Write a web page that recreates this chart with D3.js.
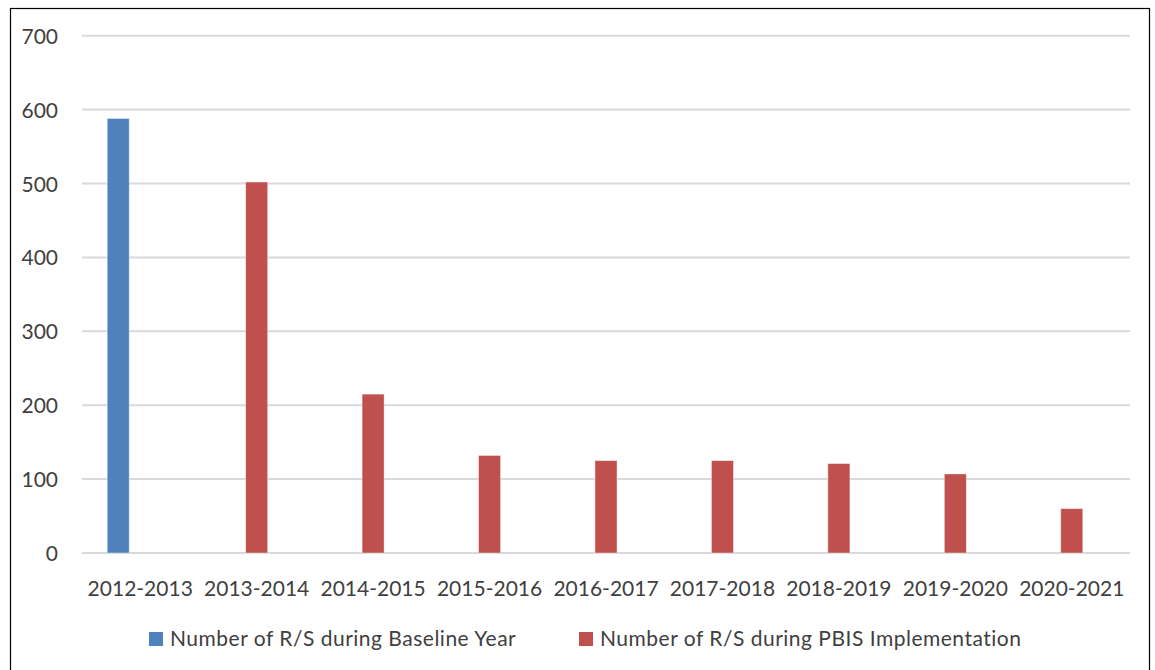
<!DOCTYPE html>
<html><head><meta charset="utf-8">
<script src="https://cdn.jsdelivr.net/npm/d3@7"></script>
<style>
html,body{margin:0;padding:0;background:#fff;}
svg text{font-family:Lato,"Open Sans",sans-serif;fill:#404040;}
</style></head>
<body>
<svg id="chart" width="1155" height="670"></svg>
<script>
const categories = ["2012-2013","2013-2014","2014-2015","2015-2016","2016-2017","2017-2018","2018-2019","2019-2020","2020-2021"];
const baselineValues = [588, null, null, null, null, null, null, null, null];
const pbisValues = [null, 502, 215, 132, 125, 125, 121, 107, 60];
const seriesNames = ["Number of R/S during Baseline Year", "Number of R/S during PBIS Implementation"];
const seriesColors = ["#4f81bd", "#c0504d"];
const yTicks = [0, 100, 200, 300, 400, 500, 600, 700];

(function () {
const svg = d3.select("#chart");
const mLeft = 82, mRight = 1130, mTop = 35.7, mBottom = 553;
const fam = "Lato, 'Open Sans', sans-serif";

svg.append("rect").attr("x", 10.5).attr("y", 8.5).attr("width", 1139).attr("height", 680)
  .attr("fill", "none").attr("stroke", "#000").attr("stroke-width", 1.2);

const x = d3.scaleBand().domain(categories).range([mLeft, mRight]).paddingInner(0.433).paddingOuter(0.2165);
const slots = ["baseline", "pbis", "empty"];
const xs = d3.scaleBand().domain(slots).range([0, x.bandwidth()]);
const y = d3.scaleLinear().domain([0, 700]).range([mBottom, mTop]);

// gridlines
svg.append("g").selectAll("line").data(yTicks).join("line")
  .attr("x1", mLeft).attr("x2", mRight)
  .attr("y1", d => y(d)).attr("y2", d => y(d))
  .attr("stroke", "#d9d9d9").attr("stroke-width", 2);

// y axis labels
const yAxis = d3.axisLeft(y).tickValues(yTicks).tickSize(0).tickPadding(0);
const gy = svg.append("g").attr("transform", `translate(${58},0)`).call(yAxis);
gy.select(".domain").remove();
gy.selectAll("text").attr("font-size", 21).attr("fill", "#404040").attr("dy", "0.36em").style("font-family", fam);

// x axis labels
const xAxis = d3.axisBottom(x).tickSize(0).tickPadding(0);
const gx = svg.append("g").attr("transform", `translate(0,${595.5})`).call(xAxis);
gx.select(".domain").remove();
gx.selectAll("text").attr("font-size", 21).attr("fill", "#404040").attr("y", 0).attr("dy", "0").style("font-family", fam);

// bars
const series = [
  {key: "baseline", values: baselineValues, color: seriesColors[0]},
  {key: "pbis", values: pbisValues, color: seriesColors[1]}
];
series.forEach(s => {
  const data = categories.map((c, i) => ({c, v: s.values[i]})).filter(d => d.v != null);
  svg.append("g").selectAll("rect").data(data).join("rect")
    .attr("x", d => x(d.c) + xs(s.key))
    .attr("width", xs.bandwidth())
    .attr("y", d => y(d.v))
    .attr("height", d => y(0) - y(d.v))
    .attr("fill", s.color)
    .attr("stroke", "#fff").attr("stroke-opacity", 0.5).attr("stroke-width", 0.8);
});

// legend
const legendX = [149, 579];
const lg = svg.append("g");
seriesNames.forEach((n, i) => {
  lg.append("rect").attr("x", legendX[i]).attr("y", 632).attr("width", 14).attr("height", 14).attr("fill", seriesColors[i]);
  lg.append("text").attr("x", legendX[i] + 21).attr("y", 645.5).attr("font-size", 21)
    .attr("letter-spacing", 0.5).text(n);
});
})();
</script>
</body></html>
